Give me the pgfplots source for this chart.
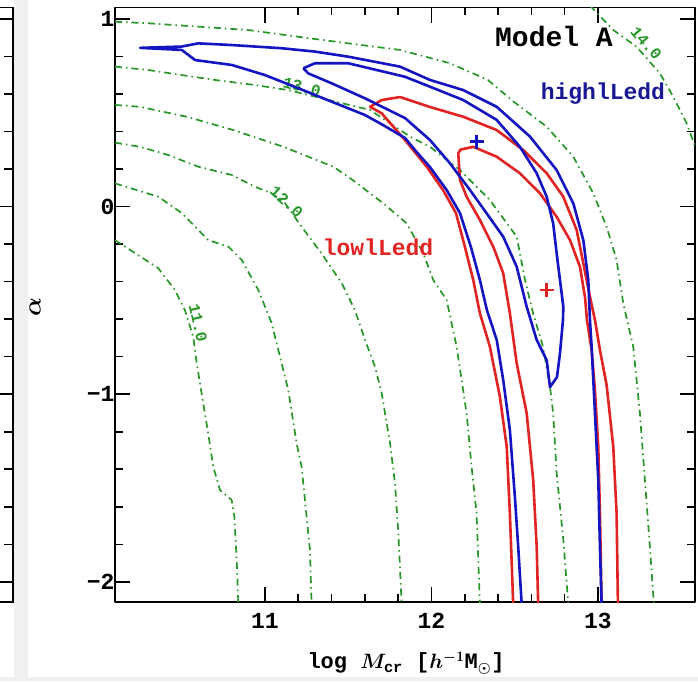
\documentclass[border=0pt]{standalone}
\usepackage{pgfplots}
\pgfplotsset{compat=1.18}
\usepackage{bm}
\usepackage{fontspec}
\setmainfont{Liberation Mono}
\definecolor{cblue}{RGB}{20,20,195}
\definecolor{cred}{RGB}{225,35,35}
\definecolor{cgreen}{RGB}{40,150,40}
\definecolor{tblue}{RGB}{25,25,150}
\begin{document}
\begin{tikzpicture}[x=1pt,y=1pt]
\useasboundingbox (0,0) rectangle (698,681);
\fill[white] (0,0) rectangle (698,681);
\fill[gray!12] (14,0) rectangle (28,681);
\fill[gray!12] (0,0) rectangle (698,4);
\clip (0,0) rectangle (698,681);
% sliver of neighbouring panel
\begin{axis}[at={(13pt,79pt)}, anchor=south east, scale only axis, width=300pt, height=594.5pt,
  xmin=0, xmax=1, ymin=-2.107, ymax=1.060, xtick=\empty, ytick={-2,-1,0,1}, yticklabels={,,,},
  minor y tick num=4, ytick pos=right, major tick length=13pt, minor tick length=9pt,
  axis line style={line width=1.8pt}, tick style={line width=1.6pt, black}]
\addplot[draw=none] coordinates {(0.5,0)};
\end{axis}
\begin{axis}[at={(115pt,79pt)}, anchor=south west, scale only axis, width=580pt, height=594.5pt,
  xmin=10.099, xmax=13.583, ymin=-2.107, ymax=1.060,
  xtick={11,12,13}, xticklabels={11,12,13},
  ytick={-2,-1,0,1}, yticklabels={−2,−1,0,1},
  minor x tick num=4, minor y tick num=4,
  major tick length=15pt, minor tick length=8pt,
  tick style={line width=1.6pt, black},
  axis line style={line width=1.8pt},
  ticklabel style={font=\bfseries\fontsize{23}{23}\selectfont},
  xticklabel style={yshift=-8pt},
  yticklabel style={xshift=3pt},
  /pgf/number format/assume math mode=true,
  line join=round]
% green model contours
\pgfplotsset{gc/.style={cgreen, line width=1.7pt, dash pattern=on 7pt off 4pt on 1.5pt off 4pt}}
\addplot[gc] coordinates {(10.099,-0.179) (10.359,-0.329) (10.459,-0.445) (10.519,-0.552) (10.569,-0.694) (10.590,-0.836) (10.629,-1.049) (10.659,-1.209) (10.689,-1.386) (10.730,-1.511) (10.800,-1.564) (10.816,-1.653) (10.830,-1.884) (10.840,-2.12)};
\addplot[gc] coordinates {(10.099,0.123) (10.359,0.052) (10.500,-0.035) (10.659,-0.179) (10.780,-0.214) (10.860,-0.285) (10.960,-0.445) (11.040,-0.621) (11.090,-0.800) (11.140,-0.978) (11.190,-1.262) (11.220,-1.386) (11.250,-1.653) (11.270,-1.830) (11.280,-2.12)};
\addplot[gc] coordinates {(10.099,0.340) (10.249,0.318) (10.419,0.274) (10.599,0.212) (10.800,0.168) (10.940,0.105) (11.040,0.070) (11.120,0.018) (11.220,-0.108) (11.340,-0.250) (11.461,-0.409) (11.540,-0.552) (11.601,-0.711) (11.661,-0.854) (11.701,-0.995) (11.751,-1.260) (11.781,-1.475) (11.801,-1.741) (11.821,-2.12)};
\addplot[gc] coordinates {(10.099,0.541) (10.249,0.531) (10.530,0.478) (10.810,0.407) (11.110,0.318) (11.410,0.212) (11.510,0.152) (11.710,0.017) (11.851,-0.090) (11.951,-0.250) (12.011,-0.392) (12.091,-0.498) (12.151,-0.747) (12.211,-1.102) (12.241,-1.386) (12.271,-1.635) (12.291,-2.12)};
\addplot[gc] coordinates {(10.099,0.745) (10.299,0.727) (10.500,0.700) (10.700,0.674) (10.940,0.647) (11.140,0.620) (11.300,0.585) (11.631,0.514) (11.871,0.372) (11.991,0.318) (12.171,0.194) (12.351,0.034) (12.512,-0.161) (12.562,-0.392) (12.610,-0.568) (12.670,-0.747) (12.712,-0.960) (12.731,-1.102) (12.752,-1.420) (12.792,-1.777) (12.822,-2.12)};
\addplot[gc] coordinates {(10.099,0.984) (10.299,0.976) (10.599,0.958) (10.900,0.940) (11.200,0.904) (11.500,0.869) (11.811,0.834) (12.111,0.763) (12.339,0.674) (12.491,0.560) (12.692,0.425) (12.852,0.265) (12.972,0.070) (13.052,-0.108) (13.112,-0.285) (13.152,-0.516) (13.212,-0.747) (13.252,-1.102) (13.282,-1.457) (13.312,-1.813) (13.336,-2.12)};
\addplot[gc] coordinates {(12.952,1.07) (13.092,0.940) (13.232,0.851) (13.372,0.709) (13.452,0.585) (13.533,0.443) (13.60,0.28)};
\node[cgreen, rotate=-77, inner sep=0pt, font=\bfseries\fontsize{16}{16}\selectfont] at (axis cs:10.598,-0.621) {11.0};
\node[cgreen, rotate=-42, inner sep=0pt, font=\bfseries\fontsize{16}{16}\selectfont] at (axis cs:11.130,0.025) {12.0};
\node[cgreen, rotate=-14, inner sep=0pt, font=\bfseries\fontsize{16}{16}\selectfont] at (axis cs:11.222,0.636) {13.0};
\node[cgreen, rotate=-49, inner sep=0pt, font=\bfseries\fontsize{16}{16}\selectfont] at (axis cs:13.290,0.870) {14.0};
% red contours (low L/Ledd)
\addplot[cred, line width=2.6pt] coordinates {(12.491,-2.12) (12.471,-1.635) (12.452,-1.280) (12.411,-1.014) (12.351,-0.747) (12.291,-0.569) (12.251,-0.392) (12.201,-0.216) (12.147,-0.035) (12.069,0.088) (11.973,0.210) (11.841,0.354) (11.701,0.496) (11.631,0.531) (11.701,0.567) (11.811,0.583) (11.991,0.530) (12.191,0.478) (12.392,0.407) (12.551,0.301) (12.692,0.177) (12.792,0.052) (12.872,-0.125) (12.912,-0.303) (12.952,-0.481) (12.982,-0.605) (13.012,-0.765) (13.052,-0.951) (13.092,-1.280) (13.112,-1.635) (13.120,-2.12)};
\addplot[cred, line width=2.6pt] coordinates {(12.641,-2.12) (12.632,-1.813) (12.611,-1.457) (12.572,-1.102) (12.512,-0.836) (12.471,-0.569) (12.431,-0.356) (12.371,-0.214) (12.291,-0.072) (12.211,0.052) (12.171,0.141) (12.161,0.283) (12.175,0.303) (12.251,0.318) (12.392,0.265) (12.531,0.177) (12.652,0.070) (12.752,-0.055) (12.832,-0.179) (12.892,-0.321) (12.922,-0.481) (12.934,-0.605) (12.962,-0.765) (12.982,-0.978) (13.002,-1.280) (13.012,-1.635) (13.022,-2.12)};
% blue contours (high L/Ledd)
\addplot[cblue, line width=2.6pt] coordinates {(12.542,-2.12) (12.521,-1.813) (12.501,-1.546) (12.471,-1.191) (12.431,-0.925) (12.392,-0.711) (12.333,-0.552) (12.291,-0.392) (12.237,-0.216) (12.171,-0.035) (12.091,0.088) (11.991,0.210) (11.911,0.290) (11.841,0.365) (11.709,0.434) (11.601,0.487) (11.401,0.558) (11.200,0.630) (11.000,0.700) (10.800,0.754) (10.580,0.780) (10.500,0.834) (10.249,0.845) (10.500,0.852) (10.599,0.869) (10.800,0.860) (11.100,0.843) (11.300,0.825) (11.500,0.798) (11.811,0.745) (11.991,0.674) (12.191,0.620) (12.392,0.531) (12.592,0.372) (12.752,0.194) (12.852,0.017) (12.912,-0.179) (12.942,-0.392) (12.952,-0.605) (12.962,-0.747) (12.982,-1.102) (13.002,-1.457) (13.012,-1.813) (13.022,-2.12)};
\addplot[cblue, line width=2.6pt] coordinates {(11.230,0.736) (11.300,0.763) (11.500,0.763) (11.841,0.691) (11.991,0.638) (12.191,0.567) (12.392,0.461) (12.531,0.318) (12.632,0.177) (12.692,0.052) (12.731,-0.090) (12.752,-0.250) (12.772,-0.392) (12.792,-0.534) (12.790,-0.605) (12.772,-0.781) (12.754,-0.909) (12.712,-0.962) (12.692,-0.818) (12.632,-0.711) (12.572,-0.534) (12.512,-0.321) (12.431,-0.161) (12.331,-0.036) (12.231,0.088) (12.111,0.230) (11.991,0.354) (11.841,0.471) (11.601,0.576) (11.401,0.656) (11.260,0.709) (11.230,0.736)};
% best-fit points
\addplot[cblue, only marks, mark=+, mark size=7pt, line width=2.6pt] coordinates {(12.271,0.345)};
\addplot[cred, only marks, mark=+, mark size=7pt, line width=2.6pt] coordinates {(12.692,-0.445)};
% labels
\node[font=\bfseries\fontsize{28}{28}\selectfont] at (axis cs:12.736,0.908) {Model A};
\node[tblue, font=\bfseries\fontsize{23}{23}\selectfont] at (axis cs:13.030,0.599) {highlLedd};
\node[cred, font=\bfseries\fontsize{23}{23}\selectfont] at (axis cs:11.679,-0.216) {lowlLedd};
\end{axis}
\node[font=\bfseries\fontsize{22}{22}\selectfont] at (406,18) {log $\bm{M}_{\mathbf{cr}}$ [$\bm{h}^{\bm{-1}}$M$_{\bm{\odot}}$]};
\node[font=\fontsize{24}{24}\selectfont, rotate=90] at (35,374) {$\bm{\alpha}$};
\end{tikzpicture}
\end{document}
